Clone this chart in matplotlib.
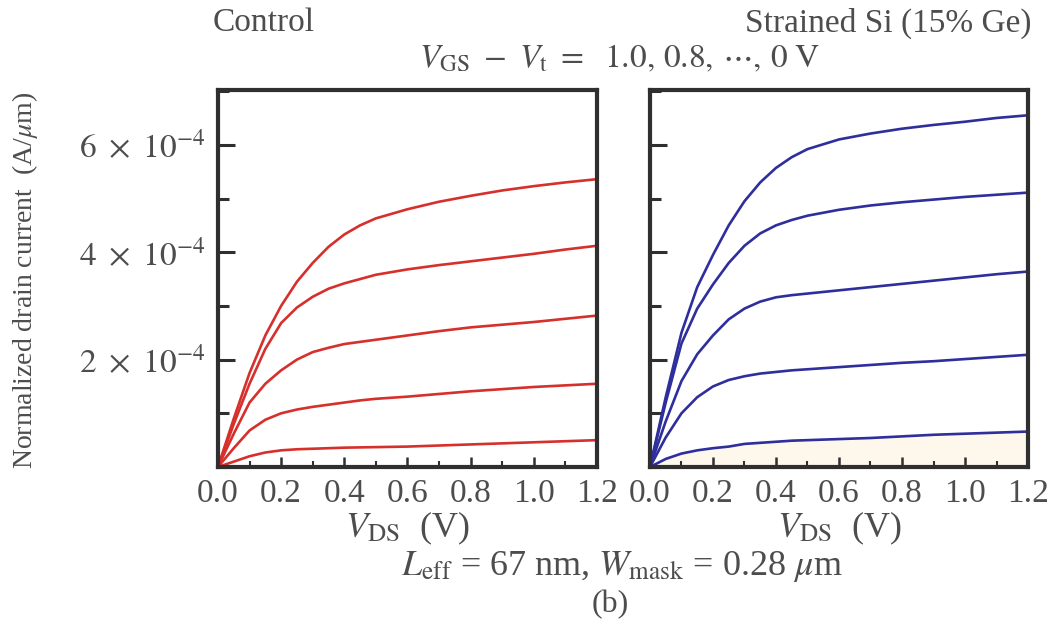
"""
Drain current vs V_DS: control vs strained Si (15% Ge)
"""

import numpy as np
import matplotlib
matplotlib.use("Agg")
import matplotlib.pyplot as plt
from matplotlib.ticker import MultipleLocator, FixedLocator

plt.rcParams["font.family"] = ["Liberation Serif", "DejaVu Serif"]
plt.rcParams["mathtext.fontset"] = "stix"

# ── data (current in units of 1e-4 A/um) ─────────────────────────────────────
vds = [0, 0.05, 0.1, 0.15, 0.2, 0.25, 0.3, 0.35, 0.4, 0.45, 0.5,
       0.6, 0.7, 0.8, 0.9, 1.0, 1.1, 1.2]

control = [
    [0, 0.9, 1.75, 2.45, 3.0, 3.45, 3.8, 4.1, 4.33, 4.5, 4.63, 4.8, 4.94, 5.05, 5.15, 5.23, 5.3, 5.36],
    [0, 0.8, 1.55, 2.2, 2.68, 2.97, 3.17, 3.32, 3.42, 3.5, 3.58, 3.68, 3.76, 3.83, 3.9, 3.97, 4.05, 4.12],
    [0, 0.62, 1.2, 1.55, 1.8, 2.0, 2.14, 2.22, 2.29, 2.33, 2.37, 2.45, 2.53, 2.6, 2.65, 2.7, 2.76, 2.82],
    [0, 0.35, 0.68, 0.88, 1.0, 1.07, 1.12, 1.16, 1.2, 1.24, 1.27, 1.31, 1.36, 1.41, 1.45, 1.49, 1.52, 1.55],
    [0, 0.1, 0.2, 0.27, 0.31, 0.33, 0.34, 0.35, 0.36, 0.365, 0.37, 0.38, 0.4, 0.42, 0.44, 0.46, 0.48, 0.5],
]

strained = [
    [0, 1.3, 2.5, 3.35, 3.95, 4.5, 4.95, 5.3, 5.57, 5.77, 5.92, 6.1, 6.21, 6.3, 6.37, 6.43, 6.5, 6.55],
    [0, 1.2, 2.3, 2.95, 3.4, 3.8, 4.12, 4.35, 4.5, 4.6, 4.68, 4.79, 4.87, 4.93, 4.98, 5.03, 5.07, 5.11],
    [0, 0.85, 1.6, 2.1, 2.45, 2.75, 2.95, 3.08, 3.16, 3.2, 3.23, 3.29, 3.35, 3.41, 3.47, 3.53, 3.59, 3.64],
    [0, 0.55, 1.0, 1.3, 1.5, 1.62, 1.69, 1.74, 1.77, 1.8, 1.82, 1.86, 1.9, 1.94, 1.97, 2.01, 2.05, 2.09],
    [0, 0.15, 0.25, 0.31, 0.35, 0.38, 0.43, 0.45, 0.47, 0.49, 0.5, 0.52, 0.54, 0.57, 0.6, 0.62, 0.64, 0.66],
]

xticks = [0.0, 0.2, 0.4, 0.6, 0.8, 1.0, 1.2]
yticks = [2e-4, 4e-4, 6e-4]
ytick_labels = [r"$2\ \times\ 10^{-4}$", r"$4\ \times\ 10^{-4}$", r"$6\ \times\ 10^{-4}$"]

RED = "#d6302c"
BLUE = "#2e2e9c"
FRAME = "#2f2f2f"
GREY = "#4d4d4d"

fig = plt.figure(figsize=(10.56, 6.21), dpi=100)
ax1 = fig.add_axes([0.2064, 0.248, 0.3589, 0.607])
ax2 = fig.add_axes([0.6155, 0.248, 0.358, 0.607])

x = np.array(vds)
for c in control:
    ax1.plot(x, np.array(c) * 1e-4, color=RED, lw=1.9, solid_capstyle="round")

ax2.fill_between(x, 0, np.array(strained[-1]) * 1e-4, color="#fdf7ec", lw=0, zorder=0)
for c in strained:
    ax2.plot(x, np.array(c) * 1e-4, color=BLUE, lw=1.9, solid_capstyle="round")

for ax in (ax1, ax2):
    ax.set_xlim(0, 1.2)
    ax.set_ylim(0, 7.02e-4)
    for s in ax.spines.values():
        s.set_linewidth(3.0)
        s.set_color(FRAME)
    ax.xaxis.set_major_locator(FixedLocator(xticks))
    ax.xaxis.set_minor_locator(MultipleLocator(0.1))
    ax.yaxis.set_major_locator(FixedLocator(yticks))
    ax.yaxis.set_minor_locator(MultipleLocator(1e-4))
    ax.tick_params(which="both", direction="in", top=False, right=False,
                   colors=FRAME, labelcolor=GREY)
    ax.tick_params(axis="y", which="major", length=12, width=2.2, pad=9, labelsize=24)
    ax.tick_params(axis="y", which="minor", length=8, width=2.2)
    ax.tick_params(axis="x", which="major", length=7, width=1.8, pad=8, labelsize=24)
    ax.tick_params(axis="x", which="minor", length=4, width=1.5)
    ax.set_xticklabels([f"{v:.1f}" for v in xticks])
    ax.set_xlabel(r"$V_{\rm DS}$  (V)", fontsize=26, color=GREY, labelpad=1)

ax1.set_yticklabels(ytick_labels)
ax2.set_yticklabels([])
ax1.set_ylabel(r"Normalized drain current  (A/$\mu$m)", fontsize=20, color=GREY)
ax1.yaxis.set_label_coords(-0.47, 0.495)

fig.text(0.201, 0.963, "Control", fontsize=24, color=GREY, ha="left", va="center")
fig.text(0.977, 0.963, "Strained Si (15% Ge)", fontsize=24, color=GREY, ha="right", va="center")
fig.text(0.587, 0.905, r"$V_{\rm GS}\ -\ V_{\rm t}\ =\ \ 1.0,\,0.8,\,\cdots,\,0\ {\rm V}$",
         fontsize=24, color=GREY, ha="center", va="center")
fig.text(0.589, 0.088, r"$L_{\rm eff}$ = 67 nm, $W_{\rm mask}$ = 0.28 $\mu$m",
         fontsize=26, color=GREY, ha="center", va="center")
fig.text(0.578, 0.027, "(b)", fontsize=23, color=GREY, ha="center", va="center")

plt.savefig("out.png", dpi=100)
plt.close()
